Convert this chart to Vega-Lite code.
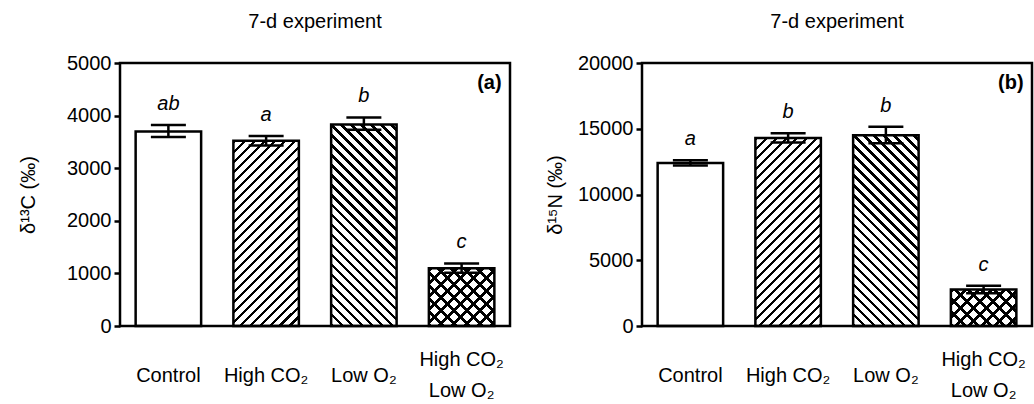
{
"padding": {"left": 17, "top": 10, "right": 0, "bottom": 0},
"bounds": "flush",
"spacing": 132,
"params": [
{"name": "stripeStops", "value": [
{"offset":0,"color":"#000"},{"offset":0.012,"color":"#000"},{"offset":0.012,"color":"transparent"},{"offset":0.037,"color":"transparent"},
{"offset":0.037,"color":"#000"},{"offset":0.049,"color":"#000"},{"offset":0.049,"color":"transparent"},{"offset":0.074,"color":"transparent"},
{"offset":0.074,"color":"#000"},{"offset":0.086,"color":"#000"},{"offset":0.086,"color":"transparent"},{"offset":0.111,"color":"transparent"},
{"offset":0.111,"color":"#000"},{"offset":0.123,"color":"#000"},{"offset":0.123,"color":"transparent"},{"offset":0.148,"color":"transparent"},
{"offset":0.148,"color":"#000"},{"offset":0.16,"color":"#000"},{"offset":0.16,"color":"transparent"},{"offset":0.185,"color":"transparent"},
{"offset":0.185,"color":"#000"},{"offset":0.197,"color":"#000"},{"offset":0.197,"color":"transparent"},{"offset":0.222,"color":"transparent"},
{"offset":0.222,"color":"#000"},{"offset":0.234,"color":"#000"},{"offset":0.234,"color":"transparent"},{"offset":0.259,"color":"transparent"},
{"offset":0.259,"color":"#000"},{"offset":0.271,"color":"#000"},{"offset":0.271,"color":"transparent"},{"offset":0.296,"color":"transparent"},
{"offset":0.296,"color":"#000"},{"offset":0.308,"color":"#000"},{"offset":0.308,"color":"transparent"},{"offset":0.333,"color":"transparent"},
{"offset":0.333,"color":"#000"},{"offset":0.345,"color":"#000"},{"offset":0.345,"color":"transparent"},{"offset":0.37,"color":"transparent"},
{"offset":0.37,"color":"#000"},{"offset":0.382,"color":"#000"},{"offset":0.382,"color":"transparent"},{"offset":0.407,"color":"transparent"},
{"offset":0.407,"color":"#000"},{"offset":0.419,"color":"#000"},{"offset":0.419,"color":"transparent"},{"offset":0.444,"color":"transparent"},
{"offset":0.444,"color":"#000"},{"offset":0.456,"color":"#000"},{"offset":0.456,"color":"transparent"},{"offset":0.481,"color":"transparent"},
{"offset":0.481,"color":"#000"},{"offset":0.493,"color":"#000"},{"offset":0.493,"color":"transparent"},{"offset":0.518,"color":"transparent"},
{"offset":0.518,"color":"#000"},{"offset":0.53,"color":"#000"},{"offset":0.53,"color":"transparent"},{"offset":0.555,"color":"transparent"},
{"offset":0.555,"color":"#000"},{"offset":0.567,"color":"#000"},{"offset":0.567,"color":"transparent"},{"offset":0.592,"color":"transparent"},
{"offset":0.592,"color":"#000"},{"offset":0.604,"color":"#000"},{"offset":0.604,"color":"transparent"},{"offset":0.629,"color":"transparent"},
{"offset":0.629,"color":"#000"},{"offset":0.641,"color":"#000"},{"offset":0.641,"color":"transparent"},{"offset":0.666,"color":"transparent"},
{"offset":0.666,"color":"#000"},{"offset":0.678,"color":"#000"},{"offset":0.678,"color":"transparent"},{"offset":0.703,"color":"transparent"},
{"offset":0.703,"color":"#000"},{"offset":0.715,"color":"#000"},{"offset":0.715,"color":"transparent"},{"offset":0.74,"color":"transparent"},
{"offset":0.74,"color":"#000"},{"offset":0.752,"color":"#000"},{"offset":0.752,"color":"transparent"},{"offset":0.777,"color":"transparent"},
{"offset":0.777,"color":"#000"},{"offset":0.789,"color":"#000"},{"offset":0.789,"color":"transparent"},{"offset":0.814,"color":"transparent"},
{"offset":0.814,"color":"#000"},{"offset":0.826,"color":"#000"},{"offset":0.826,"color":"transparent"},{"offset":0.851,"color":"transparent"},
{"offset":0.851,"color":"#000"},{"offset":0.863,"color":"#000"},{"offset":0.863,"color":"transparent"},{"offset":0.888,"color":"transparent"},
{"offset":0.888,"color":"#000"},{"offset":0.9,"color":"#000"},{"offset":0.9,"color":"transparent"},{"offset":0.925,"color":"transparent"},
{"offset":0.925,"color":"#000"},{"offset":0.937,"color":"#000"},{"offset":0.937,"color":"transparent"},{"offset":0.962,"color":"transparent"},
{"offset":0.962,"color":"#000"},{"offset":0.974,"color":"#000"},{"offset":0.974,"color":"transparent"},{"offset":1,"color":"transparent"}
]},
{"name": "backStops", "value": [
{"offset":0,"color":"#000"},{"offset":0.013,"color":"#000"},{"offset":0.013,"color":"transparent"},{"offset":0.037,"color":"transparent"},
{"offset":0.037,"color":"#000"},{"offset":0.05,"color":"#000"},{"offset":0.05,"color":"transparent"},{"offset":0.074,"color":"transparent"},
{"offset":0.074,"color":"#000"},{"offset":0.087,"color":"#000"},{"offset":0.087,"color":"transparent"},{"offset":0.111,"color":"transparent"},
{"offset":0.111,"color":"#000"},{"offset":0.124,"color":"#000"},{"offset":0.124,"color":"transparent"},{"offset":0.148,"color":"transparent"},
{"offset":0.148,"color":"#000"},{"offset":0.161,"color":"#000"},{"offset":0.161,"color":"transparent"},{"offset":0.185,"color":"transparent"},
{"offset":0.185,"color":"#000"},{"offset":0.198,"color":"#000"},{"offset":0.198,"color":"transparent"},{"offset":0.222,"color":"transparent"},
{"offset":0.222,"color":"#000"},{"offset":0.235,"color":"#000"},{"offset":0.235,"color":"transparent"},{"offset":0.259,"color":"transparent"},
{"offset":0.259,"color":"#000"},{"offset":0.272,"color":"#000"},{"offset":0.272,"color":"transparent"},{"offset":0.296,"color":"transparent"},
{"offset":0.296,"color":"#000"},{"offset":0.309,"color":"#000"},{"offset":0.309,"color":"transparent"},{"offset":0.333,"color":"transparent"},
{"offset":0.333,"color":"#000"},{"offset":0.346,"color":"#000"},{"offset":0.346,"color":"transparent"},{"offset":0.37,"color":"transparent"},
{"offset":0.37,"color":"#000"},{"offset":0.383,"color":"#000"},{"offset":0.383,"color":"transparent"},{"offset":0.407,"color":"transparent"},
{"offset":0.407,"color":"#000"},{"offset":0.42,"color":"#000"},{"offset":0.42,"color":"transparent"},{"offset":0.444,"color":"transparent"},
{"offset":0.444,"color":"#000"},{"offset":0.457,"color":"#000"},{"offset":0.457,"color":"transparent"},{"offset":0.481,"color":"transparent"},
{"offset":0.481,"color":"#000"},{"offset":0.494,"color":"#000"},{"offset":0.494,"color":"transparent"},{"offset":0.518,"color":"transparent"},
{"offset":0.518,"color":"#000"},{"offset":0.531,"color":"#000"},{"offset":0.531,"color":"transparent"},{"offset":0.555,"color":"transparent"},
{"offset":0.555,"color":"#000"},{"offset":0.568,"color":"#000"},{"offset":0.568,"color":"transparent"},{"offset":0.592,"color":"transparent"},
{"offset":0.592,"color":"#000"},{"offset":0.605,"color":"#000"},{"offset":0.605,"color":"transparent"},{"offset":0.629,"color":"transparent"},
{"offset":0.629,"color":"#000"},{"offset":0.642,"color":"#000"},{"offset":0.642,"color":"transparent"},{"offset":0.666,"color":"transparent"},
{"offset":0.666,"color":"#000"},{"offset":0.679,"color":"#000"},{"offset":0.679,"color":"transparent"},{"offset":0.703,"color":"transparent"},
{"offset":0.703,"color":"#000"},{"offset":0.716,"color":"#000"},{"offset":0.716,"color":"transparent"},{"offset":0.74,"color":"transparent"},
{"offset":0.74,"color":"#000"},{"offset":0.753,"color":"#000"},{"offset":0.753,"color":"transparent"},{"offset":0.777,"color":"transparent"},
{"offset":0.777,"color":"#000"},{"offset":0.79,"color":"#000"},{"offset":0.79,"color":"transparent"},{"offset":0.814,"color":"transparent"},
{"offset":0.814,"color":"#000"},{"offset":0.827,"color":"#000"},{"offset":0.827,"color":"transparent"},{"offset":0.851,"color":"transparent"},
{"offset":0.851,"color":"#000"},{"offset":0.864,"color":"#000"},{"offset":0.864,"color":"transparent"},{"offset":0.888,"color":"transparent"},
{"offset":0.888,"color":"#000"},{"offset":0.901,"color":"#000"},{"offset":0.901,"color":"transparent"},{"offset":0.925,"color":"transparent"},
{"offset":0.925,"color":"#000"},{"offset":0.938,"color":"#000"},{"offset":0.938,"color":"transparent"},{"offset":0.962,"color":"transparent"},
{"offset":0.962,"color":"#000"},{"offset":0.975,"color":"#000"},{"offset":0.975,"color":"transparent"},{"offset":1,"color":"transparent"}
]},
{"name": "crossStops", "value": [
{"offset":0,"color":"#000"},{"offset":0.031,"color":"#000"},{"offset":0.031,"color":"transparent"},{"offset":0.1,"color":"transparent"},
{"offset":0.1,"color":"#000"},{"offset":0.131,"color":"#000"},{"offset":0.131,"color":"transparent"},{"offset":0.2,"color":"transparent"},
{"offset":0.2,"color":"#000"},{"offset":0.231,"color":"#000"},{"offset":0.231,"color":"transparent"},{"offset":0.3,"color":"transparent"},
{"offset":0.3,"color":"#000"},{"offset":0.331,"color":"#000"},{"offset":0.331,"color":"transparent"},{"offset":0.4,"color":"transparent"},
{"offset":0.4,"color":"#000"},{"offset":0.431,"color":"#000"},{"offset":0.431,"color":"transparent"},{"offset":0.5,"color":"transparent"},
{"offset":0.5,"color":"#000"},{"offset":0.531,"color":"#000"},{"offset":0.531,"color":"transparent"},{"offset":0.6,"color":"transparent"},
{"offset":0.6,"color":"#000"},{"offset":0.631,"color":"#000"},{"offset":0.631,"color":"transparent"},{"offset":0.7,"color":"transparent"},
{"offset":0.7,"color":"#000"},{"offset":0.731,"color":"#000"},{"offset":0.731,"color":"transparent"},{"offset":0.8,"color":"transparent"},
{"offset":0.8,"color":"#000"},{"offset":0.831,"color":"#000"},{"offset":0.831,"color":"transparent"},{"offset":0.9,"color":"transparent"},
{"offset":0.9,"color":"#000"},{"offset":0.931,"color":"#000"},{"offset":0.931,"color":"transparent"},{"offset":1,"color":"transparent"}
]}
],
"config": {
"font": "Liberation Sans",
"view": {"stroke": "black", "strokeWidth": 2.5},
"axisY": {"domain": false, "grid": false, "tickSize": 6, "tickWidth": 2.5, "tickColor": "black", "labelFontSize": 20, "labelColor": "black", "labelPadding": 3, "titleFontSize": 20, "titleFontWeight": "normal", "titleColor": "black", "tickCount": 5, "format": "d"},
"axisX": {"domain": false, "grid": false, "ticks": false, "tickSize": 0, "labelFontSize": 20, "labelColor": "black", "labelPadding": 49, "labelLineHeight": 31, "labelAngle": 0},
"title": {"fontSize": 20, "fontWeight": "normal", "color": "black", "offset": 21, "anchor": "middle"},
"text": {"fontSize": 20, "color": "black"}
},
"hconcat": [
{
"width": 390, "height": 263,
"title": "7-d experiment",
"data": {"values": [
{"treatment": "Control", "mean": 3700, "lower": 3595, "upper": 3820, "letter": "ab"},
{"treatment": "High CO₂", "mean": 3520, "lower": 3430, "upper": 3610, "letter": "a"},
{"treatment": "Low O₂", "mean": 3830, "lower": 3730, "upper": 3965, "letter": "b"},
{"treatment": "High CO₂ + Low O₂", "mean": 1100, "lower": 1010, "upper": 1190, "letter": "c"}
]},
"encoding": {"x": {"field": "treatment", "type": "nominal", "sort": ["Control", "High CO₂", "Low O₂", "High CO₂ + Low O₂"], "scale": {"paddingInner": 0.33, "paddingOuter": 0.16}, "title": null, "axis": {"labelExpr": "split(datum.label, ' + ')", "labelBaseline": {"condition": {"test": "datum.value == 'High CO₂ + Low O₂'", "value": "line-bottom"}, "value": "middle"}}}},
"layer": [
{"transform": [{"filter": {"field": "treatment", "equal": "High CO₂"}}],
 "mark": {"type": "bar", "fill": {"expr": "{gradient: 'linear', x1: 0, y1: 0, x2: 0.4584, y2: 1.2961, stops: stripeStops}"}},
 "encoding": {"y": {"field": "mean", "type": "quantitative", "scale": {"domain": [0, 5000], "nice": false}, "title": "δ¹³C (‰)", "axis": {"format": "d", "titlePadding": 28}}}},
{"transform": [{"filter": {"field": "treatment", "equal": "Low O₂"}}],
 "mark": {"type": "bar", "fill": {"expr": "{gradient: 'linear', x1: 0, y1: 1, x2: 0.3940, y2: -0.2121, stops: backStops}"}},
 "encoding": {"y": {"field": "mean", "type": "quantitative", "scale": {"domain": [0, 5000], "nice": false}, "title": "δ¹³C (‰)"}}},
{"transform": [{"filter": {"field": "treatment", "equal": "High CO₂ + Low O₂"}}],
 "mark": {"type": "bar", "fill": {"expr": "{gradient: 'linear', x1: 0, y1: 0, x2: 1.1148, y2: 0.9850, stops: crossStops}"}},
 "encoding": {"y": {"field": "mean", "type": "quantitative", "scale": {"domain": [0, 5000], "nice": false}, "title": "δ¹³C (‰)"}}},
{"transform": [{"filter": {"field": "treatment", "equal": "High CO₂ + Low O₂"}}],
 "mark": {"type": "bar", "fill": {"expr": "{gradient: 'linear', x1: 0, y1: 1, x2: 1.1148, y2: 0.0150, stops: crossStops}"}},
 "encoding": {"y": {"field": "mean", "type": "quantitative", "scale": {"domain": [0, 5000], "nice": false}, "title": "δ¹³C (‰)"}}},
{"mark": {"type": "bar", "filled": false, "color": "black", "strokeWidth": 2.5},
 "encoding": {"y": {"field": "mean", "type": "quantitative", "scale": {"domain": [0, 5000], "nice": false}, "title": "δ¹³C (‰)"}}},
{"mark": {"type": "rule", "color": "black", "strokeWidth": 2.5},
 "encoding": {"y": {"field": "lower", "type": "quantitative", "scale": {"domain": [0, 5000], "nice": false}, "title": "δ¹³C (‰)"}, "y2": {"field": "upper"}}},
{"mark": {"type": "tick", "color": "black", "thickness": 2.5, "size": 35, "opacity": 1},
 "encoding": {"y": {"field": "upper", "type": "quantitative", "scale": {"domain": [0, 5000], "nice": false}, "title": "δ¹³C (‰)"}}},
{"mark": {"type": "tick", "color": "black", "thickness": 2.5, "size": 35, "opacity": 1},
 "encoding": {"y": {"field": "lower", "type": "quantitative", "scale": {"domain": [0, 5000], "nice": false}, "title": "δ¹³C (‰)"}}},
{"mark": {"type": "text", "fontStyle": "italic", "fontSize": 20, "dy": -15, "baseline": "alphabetic"},
 "encoding": {"y": {"field": "upper", "type": "quantitative", "scale": {"domain": [0, 5000], "nice": false}, "title": "δ¹³C (‰)"}, "text": {"field": "letter"}}},
{"transform": [{"filter": {"field": "treatment", "equal": "High CO₂ + Low O₂"}}],
 "mark": {"type": "text", "text": "(a)", "fontWeight": "bold", "fontSize": 20, "align": "right", "dx": 40, "baseline": "alphabetic"},
 "encoding": {"y": {"datum": 4500, "type": "quantitative", "scale": {"domain": [0, 5000], "nice": false}, "title": "δ¹³C (‰)"}}}
]
},
{
"width": 390, "height": 263,
"title": "7-d experiment",
"data": {"values": [
{"treatment": "Control", "mean": 12400, "lower": 12200, "upper": 12600, "letter": "a"},
{"treatment": "High CO₂", "mean": 14300, "lower": 13950, "upper": 14650, "letter": "b"},
{"treatment": "Low O₂", "mean": 14500, "lower": 13900, "upper": 15150, "letter": "b"},
{"treatment": "High CO₂ + Low O₂", "mean": 2780, "lower": 2490, "upper": 3070, "letter": "c"}
]},
"encoding": {"x": {"field": "treatment", "type": "nominal", "sort": ["Control", "High CO₂", "Low O₂", "High CO₂ + Low O₂"], "scale": {"paddingInner": 0.33, "paddingOuter": 0.16}, "title": null, "axis": {"labelExpr": "split(datum.label, ' + ')", "labelBaseline": {"condition": {"test": "datum.value == 'High CO₂ + Low O₂'", "value": "line-bottom"}, "value": "middle"}}}},
"layer": [
{"transform": [{"filter": {"field": "treatment", "equal": "High CO₂"}}],
 "mark": {"type": "bar", "fill": {"expr": "{gradient: 'linear', x1: 0, y1: 0, x2: 0.4460, y2: 1.2805, stops: stripeStops}"}},
 "encoding": {"y": {"field": "mean", "type": "quantitative", "scale": {"domain": [0, 20000], "nice": false}, "title": "δ¹⁵N (‰)", "axis": {"format": "d", "titlePadding": 11.5}}}},
{"transform": [{"filter": {"field": "treatment", "equal": "Low O₂"}}],
 "mark": {"type": "bar", "fill": {"expr": "{gradient: 'linear', x1: 0, y1: 1, x2: 0.4350, y2: -0.2666, stops: backStops}"}},
 "encoding": {"y": {"field": "mean", "type": "quantitative", "scale": {"domain": [0, 20000], "nice": false}, "title": "δ¹⁵N (‰)"}}},
{"transform": [{"filter": {"field": "treatment", "equal": "High CO₂ + Low O₂"}}],
 "mark": {"type": "bar", "fill": {"expr": "{gradient: 'linear', x1: 0, y1: 0, x2: 1.5135, y2: 0.8448, stops: crossStops}"}},
 "encoding": {"y": {"field": "mean", "type": "quantitative", "scale": {"domain": [0, 20000], "nice": false}, "title": "δ¹⁵N (‰)"}}},
{"transform": [{"filter": {"field": "treatment", "equal": "High CO₂ + Low O₂"}}],
 "mark": {"type": "bar", "fill": {"expr": "{gradient: 'linear', x1: 0, y1: 1, x2: 1.5135, y2: 0.1552, stops: crossStops}"}},
 "encoding": {"y": {"field": "mean", "type": "quantitative", "scale": {"domain": [0, 20000], "nice": false}, "title": "δ¹⁵N (‰)"}}},
{"mark": {"type": "bar", "filled": false, "color": "black", "strokeWidth": 2.5},
 "encoding": {"y": {"field": "mean", "type": "quantitative", "scale": {"domain": [0, 20000], "nice": false}, "title": "δ¹⁵N (‰)"}}},
{"mark": {"type": "rule", "color": "black", "strokeWidth": 2.5},
 "encoding": {"y": {"field": "lower", "type": "quantitative", "scale": {"domain": [0, 20000], "nice": false}, "title": "δ¹⁵N (‰)"}, "y2": {"field": "upper"}}},
{"mark": {"type": "tick", "color": "black", "thickness": 2.5, "size": 35, "opacity": 1},
 "encoding": {"y": {"field": "upper", "type": "quantitative", "scale": {"domain": [0, 20000], "nice": false}, "title": "δ¹⁵N (‰)"}}},
{"mark": {"type": "tick", "color": "black", "thickness": 2.5, "size": 35, "opacity": 1},
 "encoding": {"y": {"field": "lower", "type": "quantitative", "scale": {"domain": [0, 20000], "nice": false}, "title": "δ¹⁵N (‰)"}}},
{"mark": {"type": "text", "fontStyle": "italic", "fontSize": 20, "dy": -15, "baseline": "alphabetic"},
 "encoding": {"y": {"field": "upper", "type": "quantitative", "scale": {"domain": [0, 20000], "nice": false}, "title": "δ¹⁵N (‰)"}, "text": {"field": "letter"}}},
{"transform": [{"filter": {"field": "treatment", "equal": "High CO₂ + Low O₂"}}],
 "mark": {"type": "text", "text": "(b)", "fontWeight": "bold", "fontSize": 20, "align": "right", "dx": 40, "baseline": "alphabetic"},
 "encoding": {"y": {"datum": 18000, "type": "quantitative", "scale": {"domain": [0, 20000], "nice": false}, "title": "δ¹⁵N (‰)"}}}
]
}
]
}
